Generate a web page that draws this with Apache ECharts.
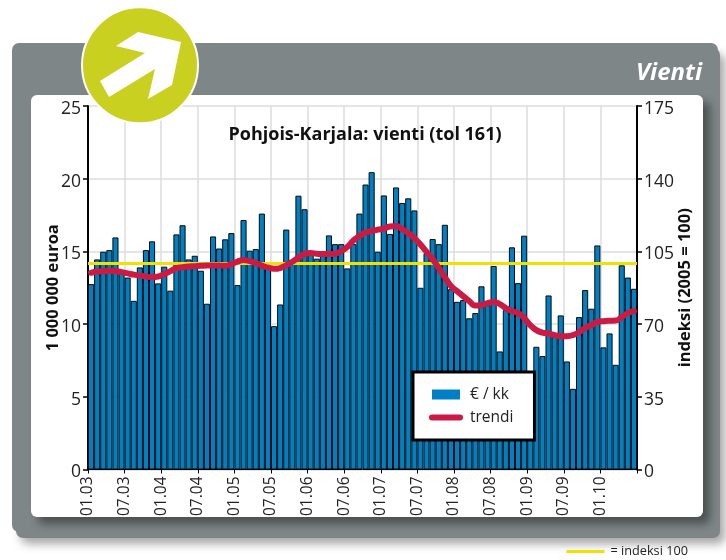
<!DOCTYPE html>
<html><head><meta charset="utf-8">
<style>html,body{margin:0;padding:0;background:#fff}#c{width:726px;height:560px}</style>
<script src="https://cdn.jsdelivr.net/npm/echarts@6/dist/echarts.min.js"></script>
</head><body><div id="c"></div>
<script>
const months = [];
for (let y = 3; y <= 10; y++) for (let m = 1; m <= 12; m++) { if (y === 10 && m > 6) break; months.push(String(m).padStart(2,'0') + '.' + String(y).padStart(2,'0')); }
const tickLabels = ['01.03','07.03','01.04','07.04','01.05','07.05','01.06','07.06','01.07','07.07','01.08','07.08','01.09','07.09','01.10'];
const exports_ = [12.75,14.45,14.98,15.09,15.96,13.7,13.2,11.6,13.9,15.09,15.69,12.8,13.95,12.3,16.17,16.8,
14.45,14.7,13.67,11.4,16.03,15.2,15.83,16.26,12.68,17.16,15.05,15.16,17.6,13.8,9.86,11.35,
16.5,14.4,18.83,17.9,14.8,14.5,14.98,16.1,15.5,15.5,13.83,15.5,17.6,19.6,20.45,14.98,
18.85,16.2,19.4,18.33,18.65,17.82,12.5,14.87,15.85,15.5,16.83,12.4,11.53,11.65,10.4,10.76,
12.6,11.3,14.0,8.12,10.96,15.28,12.82,16.08,6.2,8.44,7.8,11.97,9.24,10.6,7.43,5.55,
10.48,12.34,11.06,15.41,8.4,9.36,7.2,14.04,13.2,12.43];
const trend = [94.7,95.3,95.5,95.7,95.5,95.0,94.4,93.8,93.4,92.9,92.6,92.9,94.1,95.5,97.0,97.4,
97.7,97.9,98.1,98.2,98.2,98.2,98.1,98.9,100.1,100.8,100.3,99.4,98.2,97.2,96.6,97.0,
98.4,100,102,103.7,104.2,103.9,103.7,103.7,103.9,105.2,107.1,110.2,112.4,114.1,114.8,115.5,
116,117,117.2,115.7,113.8,111.4,108.3,104.8,101.3,97,92.6,88.3,85.9,83.5,81.1,78.9,
79.1,80.1,80.6,79.6,77.7,76.3,75.3,72.9,69.5,67.1,65.9,65.4,64.7,64.2,64.2,64.7,
66.1,68.1,69.5,71,71.4,71.6,71.7,73.4,75.3,76.3];
const indexLine = [99.2, 99.2];
const indexSpan = [0, 90];

const FONT = '"Open Sans"';
const INK = '#222';
const HIDE_DOT = {color:'transparent',borderWidth:0,opacity:0};
const chart = echarts.init(document.getElementById('c'), null, {renderer:'canvas'});
chart.setOption({
  animation:false,
  textStyle:{fontFamily:FONT},
  title:{text:'Pohjois-Karjala: vienti (tol 161)',left:360,top:121,textAlign:'center',
    textStyle:{fontFamily:FONT,fontWeight:'bold',fontSize:18,color:'#111'}},
  grid:{left:88,right:89,top:106,bottom:90.5,containLabel:false},
  legend:[
    {orient:'vertical',left:413,top:372,padding:[14.5,21,14.5,16],itemGap:7,itemWidth:28,itemHeight:10,
     backgroundColor:'#fff',borderColor:'#000',borderWidth:3,
     textStyle:{fontFamily:FONT,fontSize:15.5,color:INK,padding:[0,0,0,5]},
     data:[{name:'€ / kk',icon:'rect',itemStyle:{borderWidth:0}},
           {name:'trendi',icon:'inherit',itemStyle:HIDE_DOT,lineStyle:{width:6,cap:'round'}}]},
    {left:565,top:545,itemWidth:38,itemHeight:3,padding:0,itemGap:0,
     textStyle:{fontFamily:FONT,fontSize:12.7,color:INK,padding:[0,0,0,1]},
     data:[{name:'= indeksi 100',icon:'inherit',itemStyle:HIDE_DOT,lineStyle:{width:3}}]}
  ],
  xAxis:[
    {type:'category',data:months,show:false,boundaryGap:true},
    {type:'value',min:0,max:90,interval:6,position:'bottom',
     axisLine:{show:true,lineStyle:{color:'#000',width:1}},
     axisTick:{show:true,length:4,lineStyle:{color:'#000',width:1}},
     splitLine:{show:true,lineStyle:{color:'#dcdcdc',width:1.5}},
     axisLabel:{rotate:90,fontFamily:FONT,fontSize:15.5,color:INK,margin:7,showMinLabel:true,showMaxLabel:true,
       formatter:v=>tickLabels[v/6]||''}}
  ],
  yAxis:[
    {type:'value',min:0,max:25,interval:5,position:'left',
     name:'1 000 000 euroa',nameLocation:'middle',nameGap:26,nameMoveOverlap:false,
     nameTextStyle:{fontFamily:FONT,fontWeight:'bold',fontSize:16.5,color:'#111'},
     axisLine:{show:true,lineStyle:{color:'#000',width:2}},
     axisTick:{show:true,length:5,lineStyle:{color:'#000',width:1.5}},
     splitLine:{show:true,lineStyle:{color:'#dcdcdc',width:1.5}},
     axisLabel:{fontFamily:FONT,fontSize:17.5,color:INK,margin:7,verticalAlign:'top',lineHeight:6}},
    {type:'value',min:0,max:175,interval:35,position:'right',
     name:'indeksi (2005 = 100)',nameLocation:'middle',nameGap:40,nameMoveOverlap:false,
     nameTextStyle:{fontFamily:FONT,fontWeight:'bold',fontSize:16.5,color:'#111'},
     axisLine:{show:true,lineStyle:{color:'#000',width:2}},
     axisTick:{show:true,length:5,lineStyle:{color:'#000',width:1.5}},
     splitLine:{show:false},
     axisLabel:{fontFamily:FONT,fontSize:17.5,color:INK,margin:7,verticalAlign:'top',lineHeight:6}}
  ],
  series:[
    {name:'€ / kk',type:'bar',xAxisIndex:0,yAxisIndex:0,data:exports_,barWidth:'100%',barGap:0,
     itemStyle:{color:'#0080c4',borderColor:'#0a0a0a',borderWidth:1},z:2},
    {name:'= indeksi 100',type:'line',xAxisIndex:1,yAxisIndex:1,
     data:indexSpan.map((x,i)=>[x,indexLine[i]]),symbol:'none',
     lineStyle:{color:'#f2e000',width:3},itemStyle:{color:'#f2e000'},z:3},
    {name:'trendi',type:'line',xAxisIndex:0,yAxisIndex:1,data:trend,smooth:true,symbol:'none',
     lineStyle:{color:'#cb1a44',width:6,cap:'round'},itemStyle:{color:'#cb1a44'},z:4}
  ],
  graphic:[
    {type:'rect',z:-30,shape:{x:16,y:48,width:704,height:490,r:7},
     style:{fill:'#7f8687',shadowBlur:10,shadowColor:'rgba(0,0,0,0.35)',shadowOffsetX:5,shadowOffsetY:6}},
    {type:'rect',z:-25,shape:{x:12,y:43,width:706,height:489,r:7},style:{fill:'#7f8687'}},
    {type:'rect',z:-20,shape:{x:31,y:95,width:672,height:422,r:6},
     style:{fill:'#fff',shadowBlur:8,shadowColor:'rgba(0,0,0,0.4)',shadowOffsetX:7,shadowOffsetY:7}},
    {type:'text',z:-10,x:702,y:73,style:{text:'Vienti',fill:'#fff',font:'italic bold 24px "Open Sans"',textAlign:'right',textVerticalAlign:'middle'}},
    {type:'circle',z:100,shape:{cx:140,cy:65.3,r:58},style:{fill:'#c9d020',stroke:'#fff',lineWidth:2}},
    {type:'polygon',z:101,shape:{points:[[138,32],[181,42],[172,85],[148,99],[155,69],[109,97],[100,81],[145,53],[116,46]]},style:{fill:'#fff'}}
  ]
});
</script></body></html>
